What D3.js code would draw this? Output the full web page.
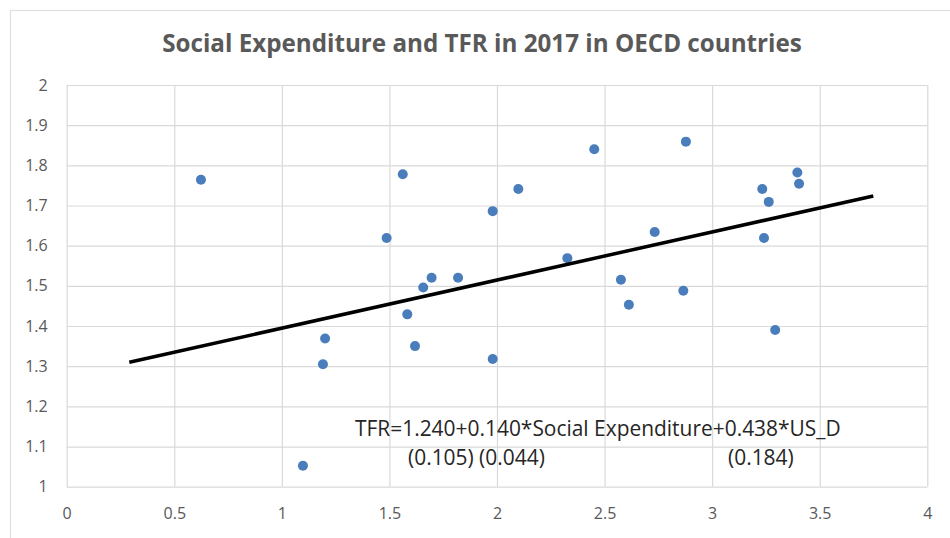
<!DOCTYPE html>
<html>
<head>
<meta charset="utf-8">
<script src="https://cdn.jsdelivr.net/npm/d3@7"></script>
<style>
  html, body { margin: 0; padding: 0; background: #fff; }
  svg { display: block; }
</style>
</head>
<body>
<svg id="chart" width="950" height="538"></svg>
<script>
// Social expenditure (x) vs total fertility rate (y), OECD countries, 2017
const socialExpenditure = [
  0.624, 1.098, 1.201, 1.191, 1.487, 1.562, 1.583, 1.619, 1.657, 1.696,
  1.819, 1.980, 1.980, 2.099, 2.327, 2.452, 2.576, 2.613, 2.733, 2.866,
  2.878, 3.233, 3.241, 3.263, 3.293, 3.396, 3.404
];
const tfr = [
  1.764, 1.052, 1.369, 1.305, 1.619, 1.778, 1.429, 1.350, 1.496, 1.520,
  1.520, 1.686, 1.318, 1.741, 1.569, 1.840, 1.515, 1.453, 1.634, 1.488,
  1.859, 1.741, 1.619, 1.709, 1.390, 1.782, 1.754
];

// Linear trendline: intercept, slope and the x-range it spans
const trendCoef = [1.275, 0.1197];
const trendRange = [0.291, 3.749];

const xTicks = [0, 0.5, 1, 1.5, 2, 2.5, 3, 3.5, 4];
const yTicks = [1, 1.1, 1.2, 1.3, 1.4, 1.5, 1.6, 1.7, 1.8, 1.9, 2];

const titleText = "Social Expenditure and TFR in 2017 in OECD countries";
const eqLine = "TFR=1.240+0.140*Social Expenditure+0.438*US_D";
const seLeft = "(0.105) (0.044)";
const seRight = "(0.184)";

const svg = d3.select("#chart");
const W = 950, H = 538;
const plot = { left: 66.7, right: 927.3, top: 85, bottom: 486.7 };

const x = d3.scaleLinear().domain([0, 4]).range([plot.left, plot.right]);
const y = d3.scaleLinear().domain([1, 2]).range([plot.bottom, plot.top]);

const font = "'Open Sans', 'Noto Sans', sans-serif";
const grey = "#595959";
const gridColor = "#d9d9d9";

svg.append("rect").attr("width", W).attr("height", H).attr("fill", "#fff");

// Chart area border
svg.append("rect")
  .attr("x", 10.5).attr("y", 10.5)
  .attr("width", W + 20).attr("height", H + 20)
  .attr("fill", "none").attr("stroke", "#e0e0e0").attr("stroke-width", 1.2);

// Title
const title = svg.append("text")
  .attr("x", (162 + 802) / 2).attr("y", 51.5)
  .attr("text-anchor", "middle")
  .attr("font-family", font).attr("font-weight", 700)
  .attr("font-size", 21).attr("fill", grey)
  .text(titleText);
{
  const w = title.node().getComputedTextLength();
  title.attr("font-size", 21 * 640 / w);
}

// Gridlines via axes
const gx = svg.append("g")
  .attr("transform", `translate(0,${plot.bottom})`)
  .call(d3.axisBottom(x).tickValues(xTicks).tickSize(-(plot.bottom - plot.top)).tickFormat(""));
const gy = svg.append("g")
  .attr("transform", `translate(${plot.left},0)`)
  .call(d3.axisLeft(y).tickValues(yTicks).tickSize(-(plot.right - plot.left)).tickFormat(""));
[gx, gy].forEach(g => {
  g.select(".domain").remove();
  g.selectAll(".tick line").attr("stroke", gridColor).attr("stroke-width", 1.2);
});

// Tick labels
const yLab = svg.append("g")
  .attr("transform", `translate(${plot.left},0)`)
  .call(d3.axisLeft(y).tickValues(yTicks).tickSize(0).tickPadding(19)
    .tickFormat(d => d3.format("")(+d.toFixed(1))));
yLab.select(".domain").remove();
yLab.selectAll("text").attr("font-family", font).attr("font-size", 16).attr("fill", grey);

const xLab = svg.append("g")
  .attr("transform", `translate(0,${plot.bottom})`)
  .call(d3.axisBottom(x).tickValues(xTicks).tickSize(0).tickPadding(21)
    .tickFormat(d => d3.format("")(+d.toFixed(1))));
xLab.select(".domain").remove();
xLab.selectAll("text").attr("font-family", font).attr("font-size", 16).attr("fill", grey);

// Points
const pts = socialExpenditure.map((v, i) => [v, tfr[i]]);
svg.append("g").selectAll("circle").data(pts).join("circle")
  .attr("cx", d => x(d[0])).attr("cy", d => y(d[1]))
  .attr("r", 5).attr("fill", "#4a7dbb");

// Trendline
const trend = trendRange.map(v => [v, trendCoef[0] + trendCoef[1] * v]);
svg.append("path")
  .attr("d", d3.line().x(d => x(d[0])).y(d => y(d[1]))(trend))
  .attr("stroke", "#000").attr("stroke-width", 3.5).attr("fill", "none");

// Regression equation with standard errors
const eq = svg.append("text")
  .attr("x", 355).attr("y", 436)
  .attr("font-family", font).attr("font-size", 17).attr("fill", "#262626")
  .text(eqLine);
{
  const w = eq.node().getComputedTextLength();
  eq.attr("font-size", 17 * 486 / w);
}
const eqSize = +eq.attr("font-size");
svg.append("text")
  .attr("x", 408).attr("y", 465)
  .attr("font-family", font).attr("font-size", eqSize).attr("fill", "#262626")
  .text(seLeft);
svg.append("text")
  .attr("x", 728).attr("y", 465)
  .attr("font-family", font).attr("font-size", eqSize).attr("fill", "#262626")
  .text(seRight);
</script>
</body>
</html>
